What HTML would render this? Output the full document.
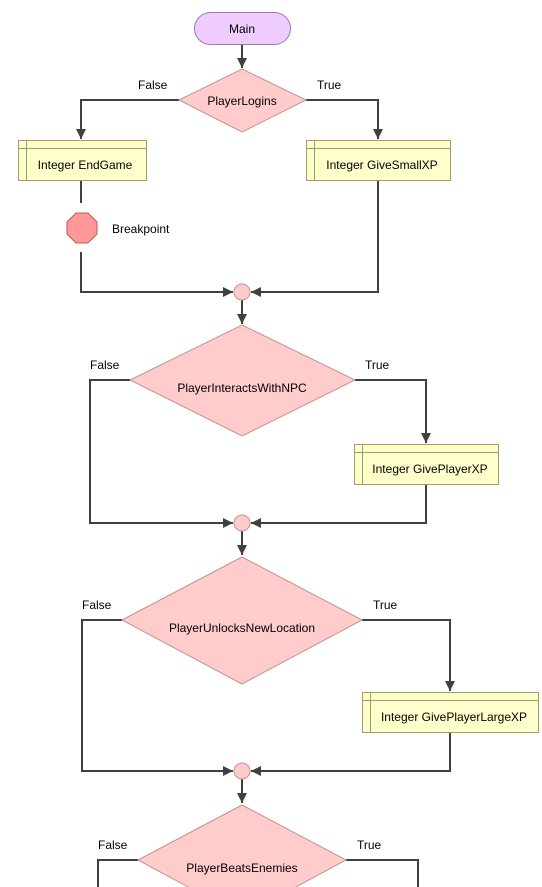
<!DOCTYPE html>
<html><head><meta charset="utf-8"><style>
html,body{margin:0;padding:0;background:#fff;width:542px;height:887px;overflow:hidden}
svg text{font-family:"Liberation Sans",sans-serif;font-size:12px;fill:#000}
</style></head><body>
<svg width="542" height="887" viewBox="0 0 542 887" xmlns="http://www.w3.org/2000/svg">
<defs>
<marker id="a" viewBox="0 0 10 10" refX="10" refY="5" markerWidth="5" markerHeight="5" orient="auto"><path d="M0,0L10,5L0,10z" fill="#404040"/></marker>
</defs>
<g fill="none" stroke="#404040" stroke-width="2">
<line x1="242" y1="44" x2="242" y2="68" marker-end="url(#a)"/>
<polyline points="179,100 81,100 81,139" marker-end="url(#a)"/>
<polyline points="306,100 378,100 378,139" marker-end="url(#a)"/>
<line x1="81" y1="180" x2="81" y2="203"/>
<polyline points="81,252 81,292 233,292" marker-end="url(#a)"/>
<polyline points="378,180 378,292 251,292" marker-end="url(#a)"/>
<line x1="242" y1="300" x2="242" y2="324" marker-end="url(#a)"/>
<polyline points="130,380 90,380 90,523 233,523" marker-end="url(#a)"/>
<polyline points="355,380 426,380 426,443" marker-end="url(#a)"/>
<polyline points="426,484 426,523 251,523" marker-end="url(#a)"/>
<line x1="242" y1="531" x2="242" y2="555" marker-end="url(#a)"/>
<polyline points="122,620 82,620 82,771 233,771" marker-end="url(#a)"/>
<polyline points="362,620 450,620 450,691" marker-end="url(#a)"/>
<polyline points="450,732 450,771 251,771" marker-end="url(#a)"/>
<line x1="242" y1="779" x2="242" y2="803" marker-end="url(#a)"/>
<polyline points="138,860 98,860 98,887"/>
<polyline points="346,860 418,860 418,887"/>
</g>
<rect x="194.5" y="12.5" width="96" height="32" rx="16" fill="#eeccff" stroke="#9e7aa8"/>
<text x="242" y="33" text-anchor="middle">Main</text>
<g fill="#ffcccc" stroke="#c89090">
<polygon points="242,69 306,100 242,132 179,100"/>
<polygon points="242,325 355,380 242,436 130,380"/>
<polygon points="242,557 362,620 242,684 122,620"/>
<polygon points="242,805 346,860 242,916 138,860"/>
<circle cx="242" cy="292" r="8"/>
<circle cx="242" cy="523" r="8"/>
<circle cx="242" cy="771" r="8"/>
</g>
<polygon points="76,213 88,213 97,222 97,234 88,243 76,243 67,234 67,222" fill="#ff9999" stroke="#b85c5c"/>
<g fill="#ffffcc" stroke="#a0a060">
<rect x="18.5" y="140.5" width="128" height="40"/>
<rect x="306.5" y="140.5" width="144" height="40"/>
<rect x="354.5" y="444.5" width="144" height="40"/>
<rect x="362.5" y="692.5" width="176" height="40"/>
</g>
<g stroke="#a0a060">
<line x1="18" y1="148.5" x2="146" y2="148.5"/><line x1="26.5" y1="140" x2="26.5" y2="180"/>
<line x1="306" y1="148.5" x2="450" y2="148.5"/><line x1="314.5" y1="140" x2="314.5" y2="180"/>
<line x1="354" y1="452.5" x2="498" y2="452.5"/><line x1="362.5" y1="444" x2="362.5" y2="484"/>
<line x1="362" y1="700.5" x2="538" y2="700.5"/><line x1="370.5" y1="692" x2="370.5" y2="732"/>
</g>
<text x="242" y="105" text-anchor="middle">PlayerLogins</text>
<text x="138" y="89">False</text><text x="317" y="89">True</text>
<text x="85" y="169" text-anchor="middle">Integer EndGame</text>
<text x="382" y="169" text-anchor="middle">Integer GiveSmallXP</text>
<text x="112" y="233">Breakpoint</text>
<text x="242" y="392" text-anchor="middle">PlayerInteractsWithNPC</text>
<text x="90" y="369">False</text><text x="365" y="369">True</text>
<text x="430" y="473" text-anchor="middle">Integer GivePlayerXP</text>
<text x="242" y="632" text-anchor="middle">PlayerUnlocksNewLocation</text>
<text x="82" y="609">False</text><text x="373" y="609">True</text>
<text x="454" y="721" text-anchor="middle">Integer GivePlayerLargeXP</text>
<text x="242" y="872" text-anchor="middle">PlayerBeatsEnemies</text>
<text x="98" y="849">False</text><text x="357" y="849">True</text>
</svg>
</body></html>
